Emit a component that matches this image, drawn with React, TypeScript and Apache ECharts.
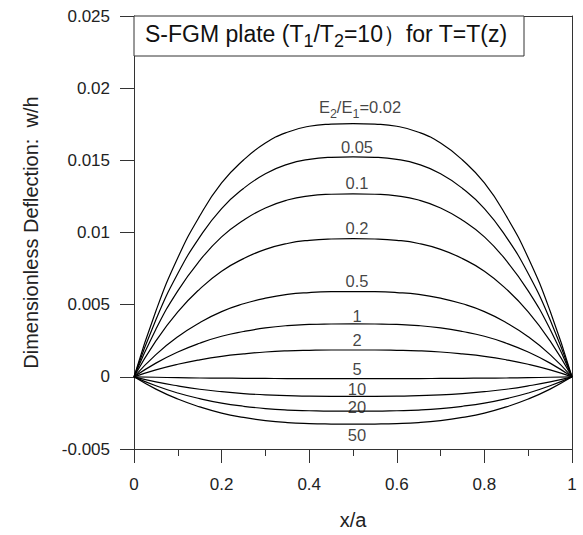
import React, { useEffect, useRef } from "react";
import * as echarts from "echarts";

const xValues = [0, 0.05, 0.1, 0.15, 0.2, 0.25, 0.3, 0.35, 0.4, 0.45, 0.5, 0.55, 0.6, 0.65, 0.7, 0.75, 0.8, 0.85, 0.9, 0.95, 1];

const w002 = [0, 0.00456, 0.00825, 0.01114, 0.01343, 0.01502, 0.0162, 0.01695, 0.01736, 0.01751, 0.01755, 0.01751, 0.01736, 0.01695, 0.0162, 0.01502, 0.01343, 0.01114, 0.00825, 0.00456, 0];
const w005 = [0, 0.00396, 0.00716, 0.00968, 0.01166, 0.01305, 0.01407, 0.01472, 0.01507, 0.01521, 0.01524, 0.01521, 0.01507, 0.01472, 0.01407, 0.01305, 0.01166, 0.00968, 0.00716, 0.00396, 0];
const w01 = [0, 0.0033, 0.00596, 0.00805, 0.0097, 0.01085, 0.0117, 0.01225, 0.01254, 0.01265, 0.01268, 0.01265, 0.01254, 0.01225, 0.0117, 0.01085, 0.0097, 0.00805, 0.00596, 0.0033, 0];
const w02 = [0, 0.00249, 0.0045, 0.00608, 0.00732, 0.00819, 0.00883, 0.00924, 0.00946, 0.00955, 0.00957, 0.00955, 0.00946, 0.00924, 0.00883, 0.00819, 0.00732, 0.00608, 0.0045, 0.00249, 0];
const w05 = [0, 0.00154, 0.00278, 0.00375, 0.00452, 0.00506, 0.00545, 0.00571, 0.00584, 0.0059, 0.00591, 0.0059, 0.00584, 0.00571, 0.00545, 0.00506, 0.00452, 0.00375, 0.00278, 0.00154, 0];
const w1 = [0, 0.00095, 0.00172, 0.00233, 0.00281, 0.00314, 0.00339, 0.00355, 0.00363, 0.00366, 0.00367, 0.00366, 0.00363, 0.00355, 0.00339, 0.00314, 0.00281, 0.00233, 0.00172, 0.00095, 0];
const w2 = [0, 0.00048, 0.00087, 0.00118, 0.00142, 0.00159, 0.00172, 0.0018, 0.00184, 0.00186, 0.00186, 0.00186, 0.00184, 0.0018, 0.00172, 0.00159, 0.00142, 0.00118, 0.00087, 0.00048, 0];
const w5 = [0, -0.00003, -0.00006, -0.00008, -0.00009, -0.0001, -0.00011, -0.00012, -0.00012, -0.00012, -0.00012, -0.00012, -0.00012, -0.00012, -0.00011, -0.0001, -0.00009, -0.00008, -0.00006, -0.00003, 0];
const w10 = [0, -0.00035, -0.00063, -0.00086, -0.00103, -0.00116, -0.00125, -0.0013, -0.00134, -0.00135, -0.00135, -0.00135, -0.00134, -0.0013, -0.00125, -0.00116, -0.00103, -0.00086, -0.00063, -0.00035, 0];
const w20 = [0, -0.00062, -0.00112, -0.00151, -0.00182, -0.00204, -0.0022, -0.0023, -0.00235, -0.00238, -0.00238, -0.00238, -0.00235, -0.0023, -0.0022, -0.00204, -0.00182, -0.00151, -0.00112, -0.00062, 0];
const w50 = [0, -0.00085, -0.00154, -0.00208, -0.00251, -0.00281, -0.00303, -0.00317, -0.00324, -0.00327, -0.00328, -0.00327, -0.00324, -0.00317, -0.00303, -0.00281, -0.00251, -0.00208, -0.00154, -0.00085, 0];

const curves = [w002, w005, w01, w02, w05, w1, w2, w5, w10, w20, w50];
const curveNames = ["0.02", "0.05", "0.1", "0.2", "0.5", "1", "2", "5", "10", "20", "50"];
const curveLabels = ["{a|E}{s|2}{a|/E}{s|1}{a|=0.02}", "0.05", "0.1", "0.2", "0.5", "1", "2", "5", "10", "20", "50"];
const labelOffsets = [-15, -10, -11, -11, -11, -8, -10, -10, -7, -4, 11];

const xTickLabels = ["0", "0.2", "0.4", "0.6", "0.8", "1"];
const yTickLabels = ["-0.005", "0", "0.005", "0.01", "0.015", "0.02", "0.025"];
const yMin = -0.005;
const yMax = 0.025;
const yStep = 0.005;

const FONT = "'Liberation Sans', Arial, Helvetica, sans-serif";
const AXIS = "#333";

export default function App() {
  const ref = useRef<HTMLDivElement>(null);
  useEffect(() => {
    if (!ref.current) return;
    const chart = echarts.init(ref.current, undefined, { renderer: "svg" });
    const midIndex = xValues.indexOf(0.5);
    const lineSeries = curves.map((ys, i) => ({
      name: curveNames[i],
      type: "line",
      data: xValues.map((x, j) => [x, ys[j]]),
      smooth: true,
      symbol: "none",
      lineStyle: { color: "#000", width: 1.2 },
      z: 3,
    }));
    const labelSeries = {
      type: "scatter",
      symbolSize: 1,
      itemStyle: { color: "rgba(0,0,0,0)" },
      silent: true,
      z: 5,
      data: curves.map((ys, i) => ({
        value: [xValues[midIndex], ys[midIndex]],
        label: {
          show: true,
          position: "inside",
          offset: [i === 0 ? 7 : 4, labelOffsets[i]],
          formatter: curveLabels[i],
          fontSize: 16.5,
          color: "#111",
          fontFamily: FONT,
          rich: {
            a: { fontSize: 16.5, lineHeight: 20, fontFamily: FONT, color: "#111", verticalAlign: "top" },
            s: { fontSize: 12.5, lineHeight: 12, padding: [9, 0, 0, 0], fontFamily: FONT, color: "#111", verticalAlign: "top" },
          },
        },
      })),
    };
    chart.setOption({
      animation: false,
      backgroundColor: "#fff",
      textStyle: { fontFamily: FONT },
      grid: { left: 134, right: 11, top: 16, bottom: 82, containLabel: false },
      xAxis: [
        {
          type: "value",
          min: 0,
          max: 1,
          interval: 0.2,
          position: "bottom",
          axisLine: { show: true, onZero: false, lineStyle: { color: AXIS, width: 1 } },
          axisTick: { show: true, inside: false, length: 14, lineStyle: { color: AXIS } },
          minorTick: { show: true, splitNumber: 2, length: 7, lineStyle: { color: AXIS } },
          splitLine: { show: false },
          axisLabel: {
            margin: 27,
            fontSize: 17,
            color: "#222",
            fontFamily: FONT,
            formatter: (v: number) => xTickLabels[Math.round(v / 0.2)] ?? "",
          },
          name: "x/a",
          nameLocation: "middle",
          nameGap: 61,
          nameTextStyle: { fontSize: 20, color: "#222", fontFamily: FONT },
        },
        {
          type: "value",
          min: 0,
          max: 1,
          position: "top",
          axisLine: { show: true, onZero: false, lineStyle: { color: AXIS, width: 1 } },
          axisTick: { show: false },
          axisLabel: { show: false },
          splitLine: { show: false },
        },
      ],
      yAxis: [
        {
          type: "value",
          min: yMin,
          max: yMax,
          interval: yStep,
          position: "left",
          axisLine: { show: true, onZero: false, lineStyle: { color: AXIS, width: 1 } },
          axisTick: { show: true, inside: false, length: 14, lineStyle: { color: AXIS } },
          splitLine: { show: false },
          axisLabel: {
            margin: 24,
            fontSize: 17,
            color: "#222",
            fontFamily: FONT,
            formatter: (v: number) => yTickLabels[Math.round((v - yMin) / yStep)] ?? "",
          },
          name: "Dimensionless Deflection:  w/h",
          nameLocation: "middle",
          nameGap: 93,
          nameTextStyle: { fontSize: 20, color: "#222", fontFamily: FONT },
        },
        {
          type: "value",
          min: yMin,
          max: yMax,
          position: "right",
          axisLine: { show: true, onZero: false, lineStyle: { color: AXIS, width: 1 } },
          axisTick: { show: false },
          axisLabel: { show: false },
          splitLine: { show: false },
        },
      ],
      graphic: [
        {
          type: "rect",
          shape: { x: 134, y: 16, width: 390, height: 40 },
          style: { fill: "#fff", stroke: AXIS, lineWidth: 1 },
          z: 10,
        },
        {
          type: "text",
          x: 145,
          y: 22,
          z: 11,
          style: {
            text: "{a|S-FGM plate (T}{s|1}{a|/T}{s|2}{a|=10）for T=T(z)}",
            fill: "#111",
            rich: {
              a: { fontSize: 23, lineHeight: 25, fontFamily: FONT, fill: "#111", verticalAlign: "top" },
              s: { fontSize: 18, lineHeight: 18, padding: [10, 0, 0, 0], fontFamily: FONT, fill: "#111", verticalAlign: "top" },
            },
          },
        },
      ],
      series: [...lineSeries, labelSeries],
    });
    return () => chart.dispose();
  }, []);
  return <div ref={ref} style={{ position: "absolute", left: 0, top: 0, width: 583, height: 535 }} />;
}
